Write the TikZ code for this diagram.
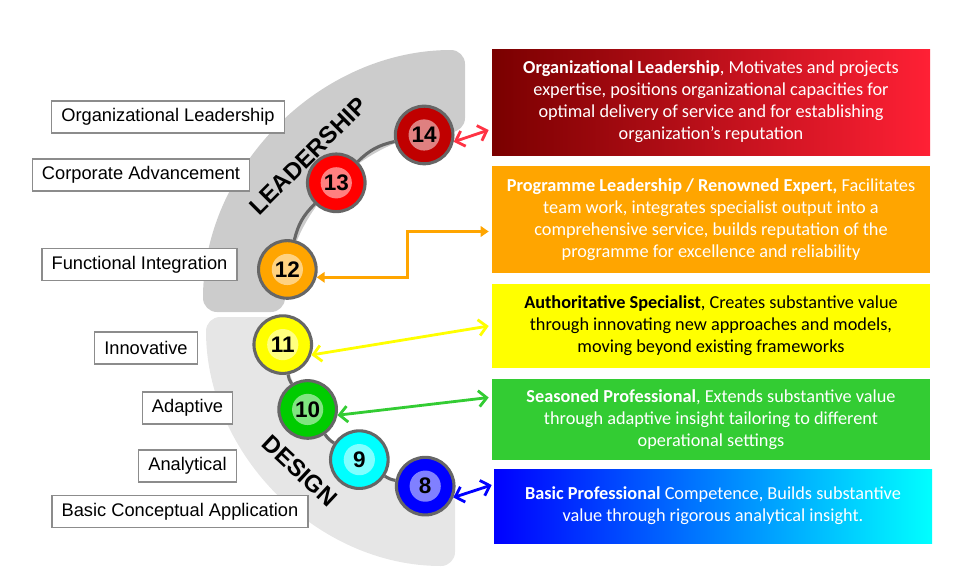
\documentclass[tikz,border=0pt]{standalone}
\usepackage{fontspec}
\setmainfont{Liberation Sans}
\newfontfamily\calib{Carlito}
\usetikzlibrary{arrows.meta,calc}

\definecolor{bandtop}{HTML}{CCCCCC}
\definecolor{bandlow}{HTML}{E6E6E6}
\definecolor{ballrim}{HTML}{666666}
\definecolor{tagrim}{HTML}{8C8C8C}
\definecolor{rubyball}{HTML}{C00000}
\definecolor{redball}{HTML}{FF0000}
\definecolor{orangeball}{HTML}{FFA500}
\definecolor{yellowball}{HTML}{FFFF00}
\definecolor{greenball}{HTML}{00CC00}
\definecolor{cyanball}{HTML}{00FFFF}
\definecolor{blueball}{HTML}{0000FF}
\definecolor{redlink}{HTML}{FF3344}
\definecolor{greenlink}{HTML}{33CC33}
\definecolor{maroonbox}{HTML}{7A0000}
\definecolor{scarletbox}{HTML}{FF2035}

\begin{document}
\begin{tikzpicture}[x=0.25mm, y=0.25mm,
    tag/.style = {rectangle, draw=tagrim, line width=1pt, fill=white,
      inner xsep=2.4mm, minimum height=8mm,
      font=\fontsize{13}{15.6}\selectfont},
    info/.style = {rectangle, align=center, minimum width=109.5mm,
      inner sep=0pt, text=white, font=\calib\fontsize{13}{15.6}\selectfont},
    ball/.style = {circle, draw=ballrim, line width=2.2pt, fill=#1,
      minimum size=14.4mm, inner sep=0pt,
      font=\bfseries\fontsize{16}{16}\selectfont,
      path picture={\fill[#1!50!white] (path picture bounding box.center) circle (3.9mm);}},
    band/.style = {font=\bfseries\fontsize{17}{17}\selectfont},
    track/.style = {draw=ballrim, line width=2.2pt},
    link/.style = {line width=2pt,
      {Straight Barb[length=2mm,width=4mm]}-{Straight Barb[length=2mm,width=4mm]}}]

  \useasboundingbox (0,0) rectangle (972,-585);

  % grey bands
  \fill[bandtop, rounded corners=10] (465,-50) arc[start angle=90, end angle=180, radius=262]
    -- ++(82,0) arc[start angle=180, end angle=90, radius=180] -- cycle;
  \fill[bandlow, rounded corners=10] (206,-317) arc[start angle=180, end angle=270, radius=249]
    -- ++(0,77) arc[start angle=270, end angle=180, radius=172] -- cycle;

  \node[band, rotate=45] (lead) at (308,-156) {LEADERSHIP};
  \node[band, rotate=-43] (design) at (300,-471) {DESIGN};

  % levels
  \coordinate (C) at (462,-313);
  \node[ball=rubyball]   (c14) at ($(C)+(102:182)$) {14};
  \node[ball=redball]    (c13) at ($(C)+(134:181)$) {13};
  \node[ball=orangeball] (c12) at ($(C)+(166:180)$) {12};
  \node[ball=yellowball] (c11) at ($(C)+(190:182)$) {11};
  \node[ball=greenball]  (c10) at ($(C)+(212:182)$) {10};
  \node[ball=cyanball]   (c9)  at ($(C)+(235:179)$) {9};
  \node[ball=blueball]   (c8)  at ($(C)+(258:177)$) {8};

  \draw[track] (c14) to[bend right=16] (c13);
  \draw[track] (c13) to[bend right=16] (c12);
  \draw[track] (c11) to[bend right=11] (c10);
  \draw[track] (c10) to[bend right=11] (c9);
  \draw[track] (c9)  to[bend right=11] (c8);

  % descriptions
  \node[info, minimum height=26.5mm, left color=maroonbox, right color=scarletbox] (b1) at (711,-102)
    {\textbf{Organizational Leadership}, Motivates and projects\\
     expertise, positions organizational capacities for\\
     optimal delivery of service and for establishing\\
     organization’s reputation};
  \node[info, minimum height=26.75mm, fill=orangeball] (b2) at (711,-219.5)
    {\textbf{Programme Leadership / Renowned Expert,} Facilitates\\
     team work, integrates specialist output into a\\
     comprehensive service, builds reputation of the\\
     programme for excellence and reliability};
  \node[info, minimum height=21mm, fill=yellowball, text=black] (b3) at (711,-326)
    {\textbf{Authoritative Specialist}, Creates substantive value\\
     through innovating new approaches and models,\\
     moving beyond existing frameworks};
  \node[info, minimum height=20.25mm, fill=greenlink] (b4) at (711,-419.5)
    {\textbf{Seasoned Professional}, Extends substantive value\\
     through adaptive insight tailoring to different\\
     operational settings};
  \node[info, minimum height=18.5mm, left color=blueball, right color=cyanball] (b5) at (713,-506)
    {\textbf{Basic Professional} Competence, Builds substantive\\
     value through rigorous analytical insight.};

  % links
  \draw[link, redlink] (c14.-13) -- ($(b1.west)+(-3,-28)$);
  \draw[line width=2pt, orangeball, {Triangle[length=2mm,width=2.6mm]}-{Triangle[length=2mm,width=2.6mm]}]
    (c12.-15) -- ++(91,0) |- ($(b2.west)+(-3,-12)$);
  \draw[link, yellowball] (c11.-20) -- ($(b3.west)+(-3,0)$);
  \draw[link, greenlink] (c10.-11) -- ($(b4.west)+(-3,22)$);
  \draw[link, blueball] (c8.-22) -- ($(b5.west)+(-2,21)$);

  % side labels
  \node[tag] (t14) at (168,-117) {Organizational Leadership};
  \node[tag] (t13) at (141,-175) {Corporate Advancement};
  \node[tag] (t12) at (139.5,-264.5) {Functional Integration};
  \node[tag] (t11) at (146,-348) {Innovative};
  \node[tag] (t10) at (187.5,-408) {Adaptive};
  \node[tag] (t9)  at (187.5,-466) {Analytical};
  \node[tag] (t8)  at (180,-511.5) {Basic Conceptual Application};
\end{tikzpicture}
\end{document}
